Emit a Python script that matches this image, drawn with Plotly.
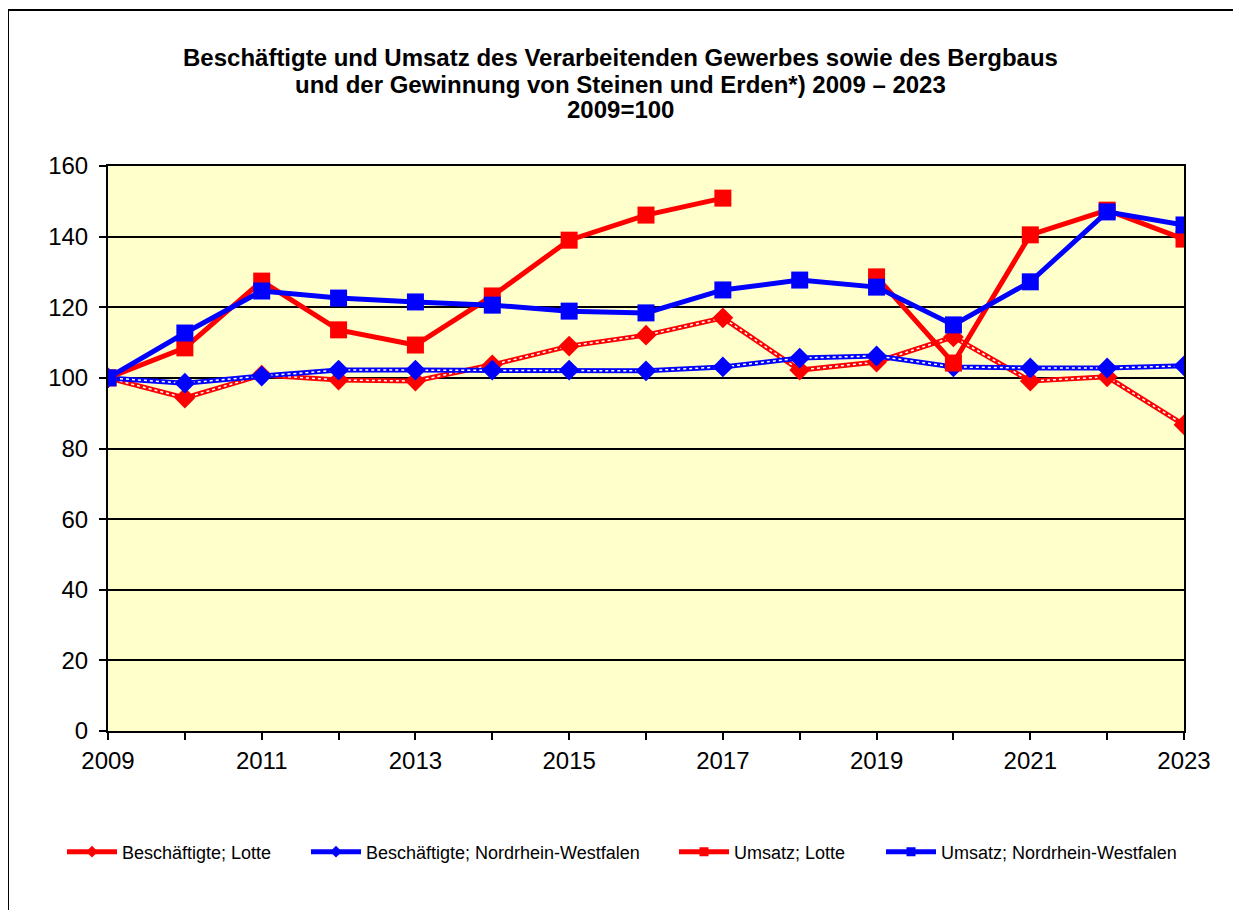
import plotly.graph_objects as go

years = list(range(2009, 2024))
besch_lotte = [100, 94.3, 100.8, 99.4, 99.1, 103.7, 109.0, 112.1, 117.0, 102.2, 104.5, 111.6, 99.1, 100.3, 86.7]
besch_nrw = [100, 98.5, 100.5, 102.2, 102.2, 102.2, 102.2, 102.0, 103.1, 105.6, 106.2, 103.1, 102.8, 102.8, 103.4]
umsatz_lotte = [100, 108.5, 127.4, 113.6, 109.3, 123.2, 139.0, 146.1, 150.9, None, 128.6, 104.2, 140.5, 147.5, 139.3]
umsatz_nrw = [100, 112.7, 124.6, 122.6, 121.5, 120.6, 118.9, 118.4, 124.9, 127.7, 125.7, 115.0, 127.2, 147.0, 143.3]

names = ["Beschäftigte; Lotte", "Beschäftigte; Nordrhein-Westfalen", "Umsatz; Lotte", "Umsatz; Nordrhein-Westfalen"]
title_lines = [
    "Beschäftigte und Umsatz des Verarbeitenden Gewerbes sowie des Bergbaus",
    "und der Gewinnung von Steinen und Erden*) 2009 – 2023",
    "2009=100",
]
x_ticklabels = [str(y) if (y - 2009) % 2 == 0 else "" for y in years]

RED = "#FF0000"
BLUE = "#0000FF"
FONT = "Liberation Sans, Arial, sans-serif"

# figure geometry (page offset of 8px from body margin)
OFF = 8
W, H = 1226, 902
L, R, T, B = 108 - OFF, 1184 - OFF, 166 - OFF, 731 - OFF


def px(page_x):
    return (page_x - OFF - L) / (R - L)


def py(page_y):
    return (B - (page_y - OFF)) / (B - T)


legend_ids = ["legend", "legend2", "legend3", "legend4"]
legend_x = [62, 306, 674, 881]

fig = go.Figure()

# Beschäftigte series: thick colored line with white dotted overlay and diamond markers
for vals, color in [(besch_lotte, RED), (besch_nrw, BLUE)]:
    fig.add_trace(go.Scatter(
        x=years, y=vals, mode="lines", showlegend=False, hoverinfo="skip",
        line=dict(color=color, width=5),
    ))
    fig.add_trace(go.Scatter(
        x=years, y=vals, mode="lines", showlegend=False, hoverinfo="skip",
        line=dict(color="white", width=1.5, dash="dot"),
    ))
    fig.add_trace(go.Scatter(
        x=years, y=vals, mode="markers", showlegend=False, hoverinfo="skip",
        marker=dict(symbol="diamond", size=16, color=color),
    ))

for vals, color in [(umsatz_lotte, RED), (umsatz_nrw, BLUE)]:
    fig.add_trace(go.Scatter(
        x=years, y=vals, mode="lines+markers", showlegend=False,
        line=dict(color=color, width=5),
        marker=dict(symbol="square", size=17, color=color),
        connectgaps=False,
    ))

# legend entries
legend_styles = [(RED, "diamond"), (BLUE, "diamond"), (RED, "square"), (BLUE, "square")]
for name, (color, sym), lid in zip(names, legend_styles, legend_ids):
    fig.add_trace(go.Scatter(
        x=[None], y=[None], name=name, mode="lines+markers",
        line=dict(color=color, width=5),
        marker=dict(symbol=sym, size=9, color=color),
        legend=lid, showlegend=True,
    ))

annotations = []
for text, yp in zip(title_lines, [57, 84, 110]):
    annotations.append(dict(
        text="<b>%s</b>" % text, x=px(620), y=py(yp), xref="paper", yref="paper",
        xanchor="center", yanchor="middle", showarrow=False,
        font=dict(family=FONT, size=24, color="black"),
    ))

layout_legends = {}
for lid, lx in zip(legend_ids, legend_x):
    layout_legends[lid] = dict(
        orientation="h", x=px(lx), y=py(852), xanchor="left", yanchor="middle",
        font=dict(family=FONT, size=18, color="black"),
        bgcolor="rgba(0,0,0,0)", itemwidth=50,
    )

border = dict(color="black", width=2)
fig.update_layout(
    width=W, height=H,
    margin=dict(l=L, r=W - R, t=T, b=H - B),
    paper_bgcolor="white",
    plot_bgcolor="#FFFFCC",
    font=dict(family=FONT, color="black"),
    showlegend=True,
    annotations=annotations,
    shapes=[
        dict(type="line", xref="paper", yref="paper",
             x0=px(8), x1=px(8), y0=py(10), y1=py(OFF + H), line=border, layer="below"),
        dict(type="line", xref="paper", yref="paper",
             x0=px(8), x1=px(OFF + W - 1), y0=py(10), y1=py(10), line=border, layer="below"),
    ],
    hovermode=False,
    **layout_legends,
)

fig.update_xaxes(
    range=[2009, 2023], tickvals=years, ticktext=x_ticklabels,
    ticks="outside", ticklen=7, tickwidth=2, tickcolor="black",
    showline=True, linecolor="black", linewidth=2, mirror=True,
    showgrid=False, zeroline=False,
    tickfont=dict(family=FONT, size=24, color="black"),
)
fig.update_yaxes(
    range=[0, 160], dtick=20, tick0=0,
    ticks="outside", ticklen=7, tickwidth=2, tickcolor="black",
    showline=True, linecolor="black", linewidth=2, mirror=True,
    showgrid=True, gridcolor="black", gridwidth=1.5, zeroline=False,
    tickfont=dict(family=FONT, size=24, color="black"),
    ticklabelstandoff=6,
)

fig.write_html("out.html")
